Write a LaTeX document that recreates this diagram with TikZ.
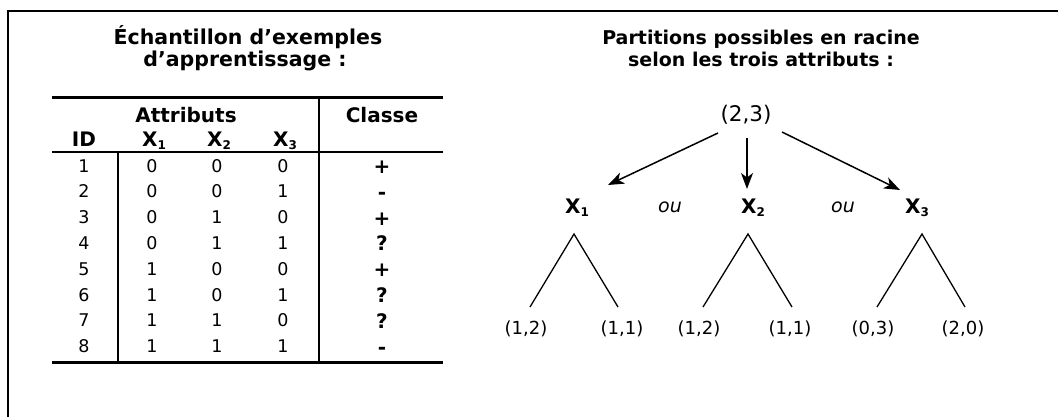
\documentclass[tikz,border=0pt]{standalone}
\usepackage{fontspec}
\setmainfont{DejaVu Sans}
\usetikzlibrary{arrows.meta}
\newcommand{\ttlL}{\fontsize{20.5}{22}\selectfont\bfseries}
\newcommand{\ttlR}{\fontsize{19}{22}\selectfont\bfseries}
\newcommand{\hdr}{\fontsize{20}{22}\selectfont\bfseries}
\newcommand{\cel}{\fontsize{17.5}{20}\selectfont}
\newcommand{\sym}{\fontsize{20}{22}\selectfont\bfseries}
\newcommand{\lf}{\fontsize{18}{20}\selectfont}
\newcommand{\rt}{\fontsize{21.5}{24}\selectfont}
\newcommand{\ouf}{\fontsize{19}{22}\selectfont\itshape}
\newcommand{\sbx}[1]{\raisebox{-0.16em}{\fontsize{12}{12}\selectfont #1}}
\tikzset{
  txt/.style={inner sep=0pt, anchor=base},
  ctxt/.style={inner sep=0pt, anchor=center},
  thickrule/.style={line width=3pt},
  thinrule/.style={line width=2.2pt},
  arr/.style={line width=1.5pt, -{Stealth[length=16pt,width=12pt,inset=4.5pt]}},
  branch/.style={line width=1.3pt},
}
\begin{document}
\begin{tikzpicture}[x=1pt,y=-1pt]
\useasboundingbox (0,0) rectangle (1058,416);
% frame
\draw[line width=2pt] (7.5,417) -- (7.5,11) -- (1059,11);
% left title
\node[txt] (lt1) at (248,44) {\ttlL Échantillon d’exemples};
\node[txt] (lt2) at (245,66) {\ttlL d’apprentissage :};
% table rules
\draw[thickrule] (52,97) -- (443,97);
\draw[thinrule] (52,152) -- (443,152);
\draw[thickrule] (52,362) -- (443,362);
\draw[thinrule] (319,97) -- (319,363.5);
\draw[thinrule] (118,152) -- (118,363.5);
% headers
\node[txt] (hattr) at (186,122) {\hdr Attributs};
\node[txt] (hcls) at (382,122) {\hdr Classe};
\node[txt] (hid) at (84,146) {\hdr ID};
\node[txt] (hx1) at (154,146) {\hdr X\sbx{1}};
\node[txt] (hx2) at (219,146) {\hdr X\sbx{2}};
\node[txt] (hx3) at (285,146) {\hdr X\sbx{3}};
% rows
\foreach \i/\a/\b/\c/\s [count=\k from 0] in {1/0/0/0/+,2/0/0/1/-,3/0/1/0/+,4/0/1/1/?,5/1/0/0/+,6/1/0/1/?,7/1/1/0/?,8/1/1/1/-}{
  \pgfmathsetmacro{\yy}{172+25.8*\k}
  \node[txt] (id\i) at (84,\yy) {\cel \i};
  \node[txt] (xa\i) at (152,\yy) {\cel \a};
  \node[txt] (xb\i) at (217,\yy) {\cel \b};
  \node[txt] (xc\i) at (283,\yy) {\cel \c};
  \node[txt] (cl\i) at (382,\yy+1.5) {\sym \s};
}
% right title
\node[txt] (rt1) at (761,44) {\ttlR Partitions possibles en racine};
\node[txt] (rt2) at (761,66) {\ttlR selon les trois attributs :};
% root
\node[ctxt] (root) at (746,115) {\rt (2,3)};
\coordinate (s1) at (718,133); \coordinate (e1) at (608,185);
\coordinate (s2) at (747,138); \coordinate (e2) at (747,189);
\coordinate (s3) at (782,132); \coordinate (e3) at (900,190);
\draw[arr] (s1) -- (e1);
\draw[arr] (s2) -- (e2);
\draw[arr] (s3) -- (e3);
% attribute nodes
\node[txt] (n1) at (577,213) {\hdr X\sbx{1}};
\node[txt] (n2) at (753,213) {\hdr X\sbx{2}};
\node[txt] (n3) at (917,213) {\hdr X\sbx{3}};
\node[txt] (ou1) at (670,212) {\ouf ou};
\node[txt] (ou2) at (843,212) {\ouf ou};
% trees
\coordinate (a1) at (574,234); \coordinate (a2) at (748,234); \coordinate (a3) at (922,234);
\node[ctxt] (l11) at (526,329) {\lf (1,2)};
\node[ctxt] (l12) at (622,329) {\lf (1,1)};
\node[ctxt] (l21) at (699,329) {\lf (1,2)};
\node[ctxt] (l22) at (790,329) {\lf (1,1)};
\node[ctxt] (l31) at (873,329) {\lf (0,3)};
\node[ctxt] (l32) at (963,329) {\lf (2,0)};
\draw[branch] ([shift={(4,-22)}]l11.center) -- (a1) -- ([shift={(-4,-22)}]l12.center);
\draw[branch] ([shift={(4,-22)}]l21.center) -- (a2) -- ([shift={(2,-22)}]l22.center);
\draw[branch] ([shift={(4,-22)}]l31.center) -- (a3) -- ([shift={(2,-22)}]l32.center);
\end{tikzpicture}
\end{document}
